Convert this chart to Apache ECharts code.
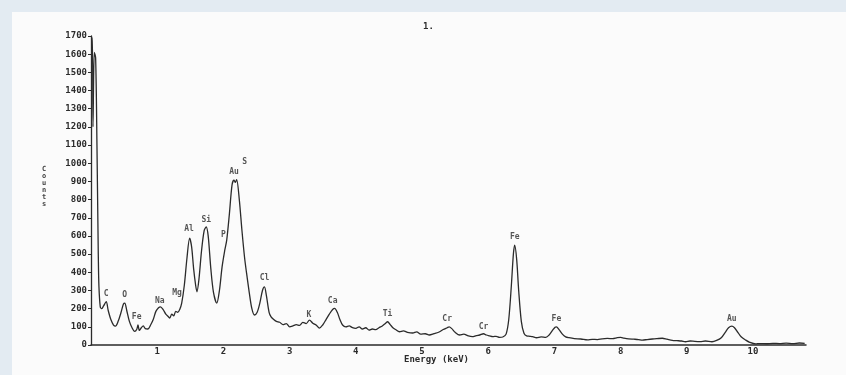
<!DOCTYPE html>
<html>
<head>
<meta charset="utf-8">
<script src="https://cdn.jsdelivr.net/npm/echarts@6/dist/echarts.min.js"></script>
<style>
    html, body { margin: 0; padding: 0; background: #e3ebf2; }
    #spectrum { width: 846px; height: 375px; }
</style>
</head>
<body>
<div id="spectrum"></div>
<script>
(function () {

    /* ============ 能谱数据 (keV / counts) ============ */

    var energy = [
        0.00, 0.02, 0.03, 0.05, 0.07, 0.09, 0.11, 0.12, 0.14, 0.16, 0.19, 0.23, 0.26, 0.30, 0.34, 0.37,
        0.41, 0.45, 0.49, 0.51, 0.54, 0.58, 0.62, 0.66, 0.69, 0.71, 0.73, 0.76, 0.79, 0.82, 0.86, 0.90,
        0.94, 0.98, 1.02, 1.05, 1.09, 1.13, 1.17, 1.19, 1.22, 1.25, 1.28, 1.31, 1.34, 1.37, 1.41, 1.45,
        1.49, 1.52, 1.55, 1.58, 1.60, 1.63, 1.67, 1.71, 1.74, 1.77, 1.81, 1.85, 1.90, 1.94, 1.98, 2.02,
        2.05, 2.09, 2.13, 2.16, 2.18, 2.20, 2.24, 2.28, 2.32, 2.35, 2.39, 2.43, 2.47, 2.51, 2.55, 2.59,
        2.62, 2.65, 2.69, 2.72, 2.76, 2.80, 2.85, 2.90, 2.95, 3.00, 3.05, 3.10, 3.15, 3.20, 3.25, 3.30,
        3.35, 3.40, 3.45, 3.50, 3.55, 3.60, 3.65, 3.68, 3.72, 3.76, 3.80, 3.85, 3.90, 3.95, 4.00, 4.05,
        4.10, 4.15, 4.20, 4.25, 4.30, 4.35, 4.40, 4.45, 4.48, 4.52, 4.56, 4.60, 4.66, 4.72, 4.78, 4.86,
        4.92, 4.98, 5.05, 5.11, 5.18, 5.25, 5.32, 5.38, 5.41, 5.45, 5.50, 5.57, 5.63, 5.70, 5.76, 5.82,
        5.87, 5.93, 5.97, 6.02, 6.07, 6.12, 6.17, 6.22, 6.27, 6.31, 6.35, 6.38, 6.40, 6.43, 6.46, 6.50,
        6.54, 6.58, 6.63, 6.67, 6.73, 6.80, 6.87, 6.92, 6.97, 7.01, 7.03, 7.07, 7.12, 7.17, 7.22, 7.30,
        7.40, 7.50, 7.57, 7.65, 7.72, 7.80, 7.88, 7.95, 8.00, 8.05, 8.12, 8.20, 8.27, 8.33, 8.40, 8.48,
        8.55, 8.63, 8.70, 8.78, 8.85, 8.92, 8.98, 9.05, 9.12, 9.20, 9.28, 9.38, 9.45, 9.52, 9.58, 9.63,
        9.68, 9.72, 9.77, 9.82, 9.89, 9.95, 10.04, 10.10, 10.20, 10.30, 10.40, 10.50, 10.60, 10.70, 10.78
    ];

    var counts = [
        1690, 1690, 1200, 1610, 1580, 1100, 500, 320, 210, 200, 215, 238, 190, 140, 110, 104,
        130, 175, 225, 230, 190, 130, 95, 75, 85, 110, 80, 95, 105, 90, 88, 110,
        140, 185, 205, 210, 195, 170, 155, 148, 170, 160, 185, 180, 195, 230, 330, 480,
        588, 540, 420, 330, 293, 360, 520, 630, 650, 600, 420, 290, 230, 300, 430, 520,
        577, 720, 880, 907, 895, 910, 800, 630, 480, 395, 290, 200, 165, 180, 230, 300,
        320, 270, 180, 155, 140, 130, 125, 112, 118, 100, 105, 112, 108, 125, 118, 137,
        120, 110, 93, 110, 140, 170, 195, 201, 180, 140, 110, 100, 105, 95, 92, 100,
        88, 95, 82, 88, 85, 95, 105, 120, 128, 112, 95, 85, 73, 78, 70, 66,
        72, 60, 62, 55, 62, 70, 85, 95, 100, 90, 70, 55, 60, 50, 46, 52,
        55, 62, 55, 50, 46, 48, 42, 44, 60, 140, 330, 500, 549, 470, 300, 130,
        65, 50, 48, 46, 40, 45, 42, 55, 80, 98, 100, 85, 60, 45, 40, 35,
        33, 28, 31, 30, 34, 36, 35, 40, 42, 38, 34, 32, 30, 27, 30, 33,
        35, 37, 32, 26, 24, 22, 18, 22, 20, 19, 22, 18, 25, 40, 70, 95,
        104, 95, 70, 45, 27, 15, 6, 8, 7, 9, 8, 10, 8, 11, 9
    ];

    // 元素标注 (标签锚点, keV / counts)
    var peakNames  = ['C', 'O', 'Fe', 'Na', 'Mg', 'Al', 'Si', 'P', 'Au', 'S', 'Cl', 'K', 'Ca', 'Ti', 'Cr', 'Cr', 'Fe', 'Fe', 'Au'];
    var peakEnergy = [0.23, 0.51, 0.69, 1.04, 1.30, 1.48, 1.74, 2.00, 2.16, 2.32, 2.62, 3.29, 3.65, 4.48, 5.38, 5.93, 6.40, 7.03, 9.68];
    var peakLabelY = [280, 275, 154, 242, 286, 637, 687, 604, 950, 1005, 368, 165, 242, 170, 143, 99, 593, 143, 143];

    var ink = '#2b2b2b';
    var font = '"DejaVu Sans Mono", monospace';

    var myChart = echarts.init(document.getElementById('spectrum'));

    var line = [];
    for (var i = 0; i < energy.length; i++) {
        line.push([energy[i], counts[i]]);
    }

    var marks = [];
    for (var j = 0; j < peakNames.length; j++) {
        marks.push({ name: peakNames[j], value: [peakEnergy[j], peakLabelY[j]] });
    }

    var option = {
        backgroundColor: '#e3ebf2',
        animation: false,
        graphic: [
            {
                type: 'rect', z: -10, silent: true,
                shape: { x: 12, y: 12, width: 834, height: 363 },
                style: { fill: '#fbfbfb' }
            },
            {
                type: 'text', left: 423, top: 22,
                style: { text: '1.', font: 'bold 9px ' + font, fill: ink }
            },
            {
                type: 'text', left: 404, top: 355,
                style: { text: 'Energy (keV)', font: 'bold 9px ' + font, fill: ink }
            },
            {
                type: 'text', left: 42, top: 166,
                style: { text: 'C\no\nu\nn\nt\ns', font: 'bold 7px ' + font, lineHeight: 7, fill: '#444' }
            }
        ],
        grid: {
            left: 91,
            right: 40,
            top: 36,
            bottom: 30
        },
        xAxis: {
            type: 'value',
            min: 0,
            max: 10.8,
            interval: 1,
            axisLine: { lineStyle: { color: ink, width: 1.5 } },
            axisTick: { show: false },
            splitLine: { show: false },
            axisLabel: {
                color: ink, fontSize: 9, fontWeight: 'bold', fontFamily: font, margin: 2,
                showMinLabel: false, showMaxLabel: false,
                formatter: function (v) { return v > 0 && v <= 10 ? String(v) : ''; }
            }
        },
        yAxis: {
            type: 'value',
            min: 0,
            max: 1700,
            interval: 100,
            axisLine: { show: true, lineStyle: { color: ink, width: 1.3 } },
            axisTick: { show: true, length: 3, lineStyle: { color: ink } },
            splitLine: { show: false },
            axisLabel: {
                color: ink, fontSize: 9, fontWeight: 'bold', fontFamily: font, margin: 4,
                formatter: function (v) { return String(v); }
            }
        },
        series: [
            {
                type: 'line',
                data: line,
                showSymbol: false,
                smooth: 0.3,
                lineStyle: { color: ink, width: 1.3 },
                z: 3
            },
            {
                type: 'scatter',
                data: marks,
                symbolSize: 0,
                silent: true,
                label: {
                    show: true,
                    position: 'inside',
                    formatter: '{b}',
                    color: ink,
                    fontSize: 8,
                    fontWeight: 'bold',
                    fontFamily: font
                },
                z: 4
            }
        ]
    };

    myChart.setOption(option);
}());
</script>
</body>
</html>
